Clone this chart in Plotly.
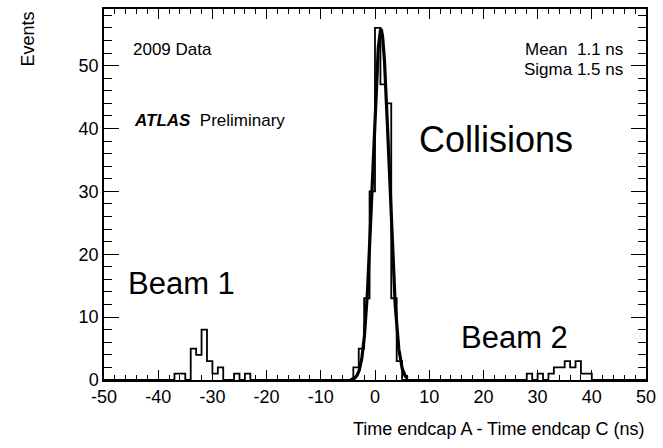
import numpy as np
import plotly.graph_objects as go

# ---- data ----
x_min, x_max = -50, 50
bin_width = 1.0

beam1_start = -37
beam1_counts = [1, 1, 0, 5, 4, 8, 3, 1, 2, 0, 0, 1, 0, 1]

collision_start = -4
collision_counts = [2, 5, 13, 30, 56, 47, 44, 13, 3]

beam2_start = 28
beam2_counts = [1, 0, 1, 0, 1, 2, 2, 3, 2, 3, 1, 1]

x_tick_values = [-50, -40, -30, -20, -10, 0, 10, 20, 30, 40, 50]
x_tick_labels = ["-50", "-40", "-30", "-20", "-10", "0", "10", "20", "30", "40", "50"]
y_tick_values = [0, 10, 20, 30, 40, 50]
y_tick_labels = ["0", "10", "20", "30", "40", "50"]

# Gaussian fit parameters
fit_mean = 1.1
fit_sigma = 1.5
fit_amplitude = 55.7
fit_range = (-4.5, 6.0)

# ---- build histogram ----
n_bins = int(round((x_max - x_min) / bin_width))
counts = np.zeros(n_bins)
for start, seg in [(beam1_start, beam1_counts),
                   (collision_start, collision_counts),
                   (beam2_start, beam2_counts)]:
    i0 = int(round((start - x_min) / bin_width))
    counts[i0:i0 + len(seg)] = seg
edges = x_min + bin_width * np.arange(n_bins + 1)
step_y = np.append(counts, counts[-1])

fit_x = np.linspace(fit_range[0], fit_range[1], 300)
fit_y = fit_amplitude * np.exp(-0.5 * ((fit_x - fit_mean) / fit_sigma) ** 2)

FONT = "Liberation Sans, Arial, Helvetica, sans-serif"

fig = go.Figure()
fig.add_trace(go.Scatter(x=edges, y=step_y, mode="lines",
                         line=dict(shape="hv", color="black", width=1.8),
                         hoverinfo="skip"))
fig.add_trace(go.Scatter(x=fit_x, y=fit_y, mode="lines",
                         line=dict(color="black", width=3.2),
                         hoverinfo="skip"))

fig.update_layout(
    width=663, height=448,
    margin=dict(l=104, r=15, t=7, b=68),
    plot_bgcolor="white", paper_bgcolor="white",
    showlegend=False,
    font=dict(family=FONT, color="black", size=18),
)

fig.update_xaxes(
    range=[x_min, x_max], tickmode="array",
    tickvals=x_tick_values, ticktext=x_tick_labels,
    ticks="inside", ticklen=10, tickwidth=1.2, tickcolor="black",
    minor=dict(dtick=2, tick0=0, ticks="inside", ticklen=5, tickwidth=1, tickcolor="black"),
    showline=True, linewidth=1.5, linecolor="black", mirror="ticks",
    showgrid=False, zeroline=False,
    tickfont=dict(size=18, family=FONT),
)
fig.update_yaxes(
    range=[0, 59], tickmode="array",
    tickvals=y_tick_values, ticktext=y_tick_labels,
    ticks="inside", ticklen=15, tickwidth=1.2, tickcolor="black",
    minor=dict(dtick=2, tick0=0, ticks="inside", ticklen=8, tickwidth=1, tickcolor="black"),
    showline=True, linewidth=1.5, linecolor="black", mirror="ticks",
    showgrid=False, zeroline=False,
    tickfont=dict(size=18, family=FONT),
)

ann = []
ann.append(dict(text="Time endcap A - Time endcap C (ns)", xref="paper", yref="paper",
                x=1, y=0, xanchor="right", yanchor="middle", yshift=-49,
                showarrow=False, font=dict(size=18)))
ann.append(dict(text="Events", xref="paper", yref="paper", x=0, y=1,
                xanchor="center", yanchor="top", xshift=-77, yshift=-1,
                textangle=-90, showarrow=False, font=dict(size=18)))
ann.append(dict(text="2009 Data", x=-45.1, y=52.6, xanchor="left", yanchor="middle",
                showarrow=False, font=dict(size=17)))
ann.append(dict(text="<b><i>ATLAS</i></b>  Preliminary", x=-44.9, y=41.2,
                xanchor="left", yanchor="middle", showarrow=False, font=dict(size=17)))
ann.append(dict(text="Mean  1.1 ns", x=46.2, y=52.6, xanchor="right", yanchor="middle",
                showarrow=False, font=dict(size=17)))
ann.append(dict(text="Sigma 1.5 ns", x=46.2, y=49.4, xanchor="right", yanchor="middle",
                showarrow=False, font=dict(size=17)))
ann.append(dict(text="Collisions", x=7.8, y=38.3, xanchor="left", yanchor="middle",
                showarrow=False, font=dict(size=36)))
ann.append(dict(text="Beam 1", x=-45.9, y=15.4, xanchor="left", yanchor="middle",
                showarrow=False, font=dict(size=31)))
ann.append(dict(text="Beam 2", x=15.5, y=6.8, xanchor="left", yanchor="middle",
                showarrow=False, font=dict(size=31)))
fig.update_layout(annotations=ann)

fig.write_html("out.html")
